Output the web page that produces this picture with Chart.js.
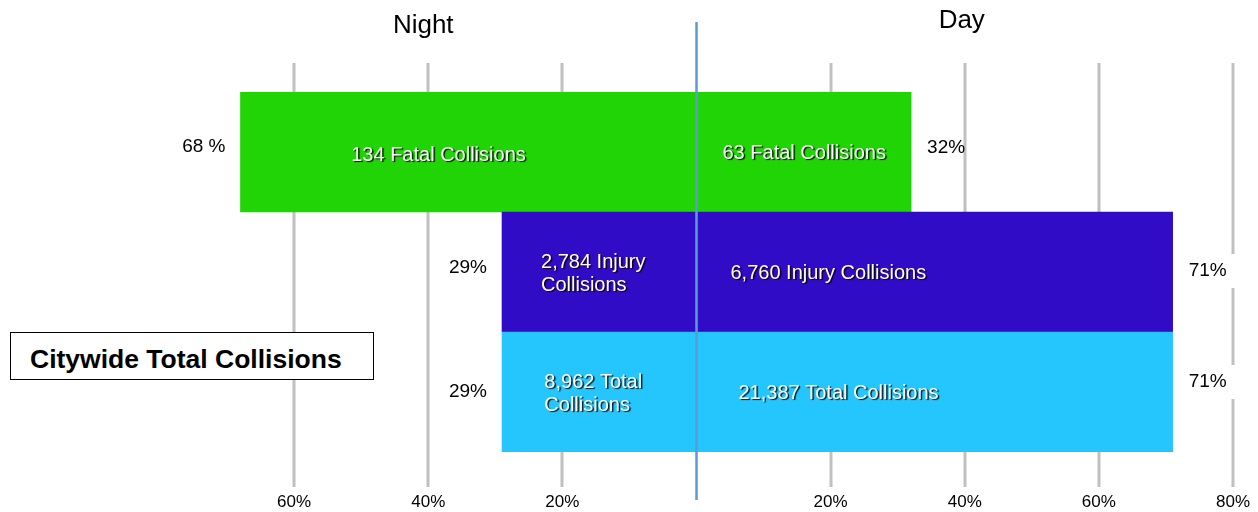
<!DOCTYPE html>
<html>
<head>
<meta charset="utf-8">
<script src="https://cdn.jsdelivr.net/npm/chart.js@4"></script>
<style>
  body { margin: 0; background: #fff; }
  #wrap { position: relative; width: 1258px; height: 512px; }
  #citywide {
    position: absolute; left: 10px; top: 332px; width: 343px; height: 46px;
    border: 1px solid #000; padding-left: 19px; background: #fff;
    font: bold 26.5px "Liberation Sans", Arial, sans-serif; line-height: 52px; color: #000;
    white-space: nowrap;
  }
</style>
</head>
<body>
<div id="wrap">
  <canvas id="chart" width="1258" height="512"></canvas>
  <div id="citywide">Citywide Total Collisions</div>
</div>
<script>
// data
const categories = ['Fatal', 'Injury', 'Total'];
const nightPct = [68, 29, 29];
const dayPct = [32, 71, 71];
const nightCounts = [134, 2784, 8962];
const dayCounts = [63, 6760, 21387];
const nightPctLabels = ['68 %', '29%', '29%'];
const dayPctLabels = ['32%', '71%', '71%'];
const colors = ['#20d406', '#300cc6', '#25c5fd'];
const sideTitles = [{ text: 'Night', value: -40 }, { text: 'Day', value: 40 }];

const FONT = '"Liberation Sans", Arial, sans-serif';

// gridlines + centre line + titles
const backdrop = {
  id: 'backdrop',
  beforeDatasetsDraw(chart) {
    const ctx = chart.ctx;
    const x = chart.scales.x;
    ctx.save();
    ctx.strokeStyle = '#c0c0c0';
    ctx.lineWidth = 3;
    x.ticks.forEach(t => {
      if (t.value === 0 || t.value === -80) return;
      const px = Math.round(x.getPixelForValue(t.value));
      ctx.beginPath();
      ctx.moveTo(px, 63);
      ctx.lineTo(px, 487);
      ctx.stroke();
    });
    ctx.restore();
  },
  afterDatasetsDraw(chart) {
    const ctx = chart.ctx;
    const x = chart.scales.x;
    ctx.save();
    const zero = x.getPixelForValue(0);
    ctx.strokeStyle = '#5b9bd5';
    ctx.lineWidth = 2.5;
    ctx.beginPath();
    ctx.moveTo(zero, 22);
    ctx.lineTo(zero, 500);
    ctx.stroke();

    ctx.fillStyle = '#000';
    ctx.font = '26px ' + FONT;
    ctx.textAlign = 'center';
    ctx.textBaseline = 'middle';
    ctx.fillText(sideTitles[0].text, x.getPixelForValue(sideTitles[0].value) - 5, 26);
    ctx.fillText(sideTitles[1].text, x.getPixelForValue(sideTitles[1].value) - 3, 21);
    ctx.restore();
  }
};

// text inside and beside the bars
const barText = {
  id: 'barText',
  afterDraw(chart) {
    const ctx = chart.ctx;
    const zero = chart.scales.x.getPixelForValue(0);
    const nightDy = [-5, -4, 0];
    const dayDy = [-4, -1, -10];
    ctx.save();
    ctx.textBaseline = 'middle';
    categories.forEach((cat, i) => {
      const nb = chart.getDatasetMeta(0).data[i];
      const db = chart.getDatasetMeta(1).data[i];
      const cy = nb.y;

      // percent labels
      ctx.shadowColor = 'transparent';
      ctx.font = '19px ' + FONT;
      ctx.fillStyle = '#000';
      ctx.textAlign = 'right';
      ctx.fillText(nightPctLabels[i], Math.min(nb.x, nb.base) - 15, cy + nightDy[i]);
      ctx.textAlign = 'left';
      const w = ctx.measureText(dayPctLabels[i]).width;
      const lx = Math.max(db.x, db.base) + 16;
      if (i > 0) {
        // white gap in the 80% gridline behind the label
        ctx.fillStyle = '#fff';
        ctx.fillRect(lx - 2, cy + dayDy[i] - 17, w + 30, 34);
      }
      ctx.fillStyle = '#000';
      ctx.fillText(dayPctLabels[i], lx, cy + dayDy[i]);

      // count labels
      ctx.font = '20px ' + FONT;
      ctx.fillStyle = '#fff';
      ctx.shadowColor = 'rgba(0,0,0,0.85)';
      ctx.shadowOffsetX = 1.5;
      ctx.shadowOffsetY = 1.5;
      ctx.shadowBlur = 1;

      const nText = nightCounts[i].toLocaleString('en-US') + ' ' + cat + ' Collisions';
      const nWidth = Math.abs(nb.x - nb.base);
      const nLines = ctx.measureText(nText).width > nWidth - 20
        ? [nightCounts[i].toLocaleString('en-US') + ' ' + cat, 'Collisions']
        : [nText];
      const ncx = (nb.x + nb.base) / 2;
      if (nLines.length === 1) {
        ctx.textAlign = 'center';
        ctx.fillText(nLines[0], ncx - 30, cy + 3);
      } else {
        ctx.textAlign = 'left';
        const lw = Math.max(...nLines.map(l => ctx.measureText(l).width));
        nLines.forEach((l, k) => ctx.fillText(l, ncx - lw / 2 - 6, cy - 10 + k * 23));
      }

      const dText = dayCounts[i].toLocaleString('en-US') + ' ' + cat + ' Collisions';
      ctx.textAlign = 'left';
      ctx.fillText(dText, zero + 26 + i * 8, cy + 1);
    });
    ctx.restore();
  }
};

new Chart(document.getElementById('chart'), {
  type: 'bar',
  data: {
    labels: categories,
    datasets: [
      { label: 'Night', data: nightPct.map(v => -v), backgroundColor: colors, borderWidth: 0 },
      { label: 'Day', data: dayPct, backgroundColor: colors, borderWidth: 0 }
    ]
  },
  options: {
    indexAxis: 'y',
    responsive: false,
    animation: false,
    layout: { padding: { left: 160, right: 0, top: 92, bottom: 0 } },
    datasets: { bar: { categoryPercentage: 1, barPercentage: 1 } },
    plugins: { legend: { display: false }, tooltip: { enabled: false } },
    scales: {
      x: {
        stacked: true,
        min: -80,
        max: 80,
        grid: { display: false, drawTicks: false },
        border: { display: false },
        afterFit: s => { s.height = 60; s.paddingLeft = 0; s.paddingRight = 25; },
        ticks: {
          stepSize: 20,
          padding: 40,
          color: '#000',
          font: { family: FONT, size: 17 },
          callback: v => (v === 0 || v === -80) ? '' : Math.abs(v) + '%'
        }
      },
      y: {
        stacked: true,
        display: false
      }
    }
  },
  plugins: [backdrop, barText]
});
</script>
</body>
</html>
